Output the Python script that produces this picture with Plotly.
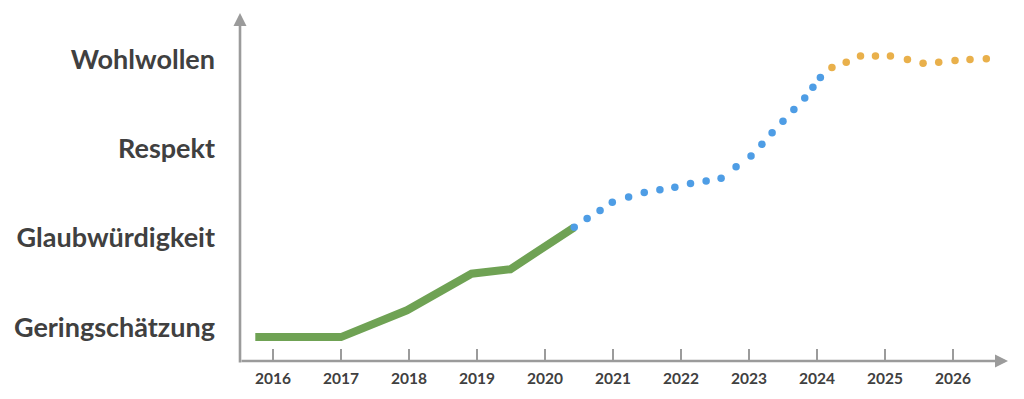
import plotly.graph_objects as go

# Level labels (y positions 0..3)
levels = ["Geringschätzung", "Glaubwürdigkeit", "Respekt", "Wohlwollen"]
level_vals = [0, 1, 2, 3]

# Years on the time axis
years = [2016, 2017, 2018, 2019, 2020, 2021, 2022, 2023, 2024, 2025, 2026]

# Observed (green solid line)
obs_x = [2015.74, 2017.0, 2017.97, 2018.92, 2019.49, 2020.43]
obs_y = [-0.11, -0.11, 0.19, 0.60, 0.65, 1.12]

# Projection (blue dots)
proj_x = [2020.43, 2020.62, 2020.81, 2020.99, 2021.23, 2021.46, 2021.69, 2021.91,
          2022.14, 2022.37, 2022.59, 2022.81, 2023.03, 2023.19, 2023.34, 2023.50,
          2023.66, 2023.82, 2023.94, 2024.05]
proj_y = [1.12, 1.22, 1.31, 1.40, 1.46, 1.51, 1.54, 1.57,
          1.61, 1.64, 1.67, 1.80, 1.92, 2.05, 2.18, 2.31,
          2.44, 2.57, 2.69, 2.80]

# Long-term outlook (orange dots)
out_x = [2024.22, 2024.43, 2024.64, 2024.86, 2025.08, 2025.33, 2025.56, 2025.79,
         2026.03, 2026.25, 2026.49]
out_y = [2.91, 2.97, 3.04, 3.04, 3.04, 3.00, 2.96, 2.97, 2.99, 3.00, 3.01]

GREEN = "#6fa254"
BLUE = "#4e9de5"
ORANGE = "#e9b04b"
GRAY = "#9b9b9b"
TEXT = "#404040"
FONT = "Lato"

fig = go.Figure()
fig.add_trace(go.Scatter(x=obs_x, y=obs_y, mode="lines",
                         line=dict(color=GREEN, width=8), hoverinfo="skip"))
fig.add_trace(go.Scatter(x=proj_x, y=proj_y, mode="markers",
                         marker=dict(color=BLUE, size=7.5), hoverinfo="skip"))
fig.add_trace(go.Scatter(x=out_x, y=out_y, mode="markers",
                         marker=dict(color=ORANGE, size=7.5), hoverinfo="skip"))

# Axis arrows
fig.add_annotation(x=1, y=0, xref="paper", yref="paper", ax=-768, ay=0,
                   axref="pixel", ayref="pixel", showarrow=True, text="",
                   arrowhead=2, arrowsize=1.0, arrowwidth=2.6, arrowcolor=GRAY)
fig.add_annotation(x=0, y=1, xref="paper", yref="paper", ax=0, ay=351,
                   axref="pixel", ayref="pixel", showarrow=True, text="",
                   arrowhead=2, arrowsize=1.0, arrowwidth=2.6, arrowcolor=GRAY)

fig.update_layout(
    width=1024, height=399,
    margin=dict(l=240, r=16, t=13, b=35),
    paper_bgcolor="white", plot_bgcolor="white",
    showlegend=False,
    xaxis=dict(range=[2015.515, 2026.809], tickvals=years,
               ticktext=[str(y) for y in years],
               ticks="inside", ticklen=12, tickwidth=1.5, tickcolor=GRAY,
               ticklabelstandoff=6,
               showgrid=False, zeroline=False, showline=False,
               tickfont=dict(family=FONT, size=15.5, color=TEXT, weight="bold"),
               fixedrange=True),
    yaxis=dict(range=[-0.378, 3.522], tickvals=level_vals, ticktext=levels,
               ticks="", showgrid=False, zeroline=False, showline=False,
               ticklabelstandoff=24,
               tickfont=dict(family=FONT, size=27, color=TEXT, weight="bold"),
               fixedrange=True),
)

fig.write_html("out.html", config={"displayModeBar": False},
               post_script="document.body.style.margin='0';document.body.style.overflow='hidden';")
